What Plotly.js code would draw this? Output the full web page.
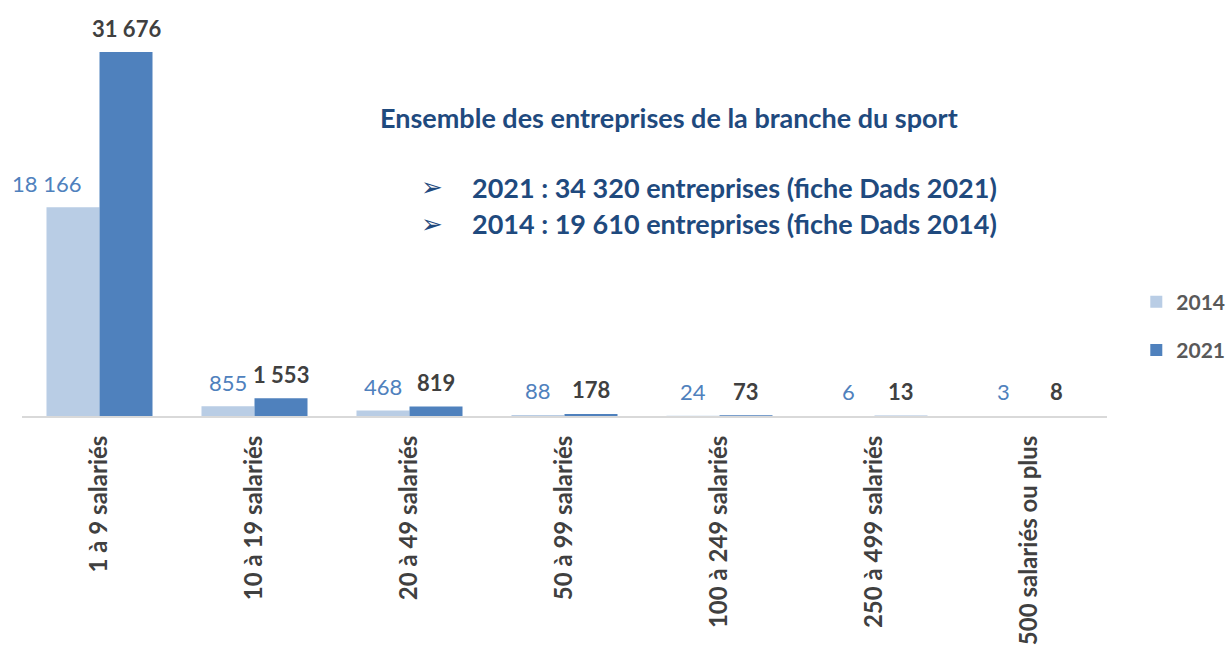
<!DOCTYPE html>
<html>
<head>
<meta charset="utf-8">
<script src="https://cdn.plot.ly/plotly-3.0.1.min.js"></script>
<style>html,body{margin:0;padding:0;background:#fff;}#chart{width:1227px;height:650px;}</style>
</head>
<body>
<div id="chart"></div>
<script>
const categories = ['1 à 9 salariés', '10 à 19 salariés', '20 à 49 salariés', '50 à 99 salariés', '100 à 249 salariés', '250 à 499 salariés', '500 salariés ou plus'];
const values2014 = [18166, 855, 468, 88, 24, 6, 3];
const values2021 = [31676, 1553, 819, 178, 73, 13, 8];
const seriesNames = ['2014', '2021'];
const titleText = 'Ensemble des entreprises de la branche du sport';
const bulletLines = ['2021 : 34 320 entreprises (fiche Dads 2021)', '2014 : 19 610 entreprises (fiche Dads 2014)'];

const FONT = 'Lato, "Open Sans", sans-serif';
const LIGHT = '#b9cde5', DARK = '#4f81bd', TITLE_C = '#1f4a7e';
const fmt = n => String(n).replace(/\B(?=(\d{3})+(?!\d))/g, ' ');

const bargap = 0.316;
const off = (1 - bargap) / 4;

const traces = [
  {type: 'bar', name: seriesNames[0], x: categories, y: values2014, marker: {color: LIGHT}, legendgroup: 'a', hoverinfo: 'none'},
  {type: 'bar', name: seriesNames[1], x: categories, y: values2021, marker: {color: DARK}, legendgroup: 'b', hoverinfo: 'none'}
];

const annotations = [];
values2014.forEach((v, i) => annotations.push({
  x: i - off, y: v, xref: 'x', yref: 'y', text: fmt(v), showarrow: false,
  yanchor: 'middle', yshift: 24, xshift: i === 0 ? -27 : 0,
  font: {family: FONT, size: 22, color: DARK}
}));
values2021.forEach((v, i) => annotations.push({
  x: i + off, y: v, xref: 'x', yref: 'y', text: '<b>' + fmt(v) + '</b>', showarrow: false,
  yanchor: 'middle', yshift: 24,
  font: {family: FONT, size: 22, color: '#404040'}
}));
annotations.push({
  xref: 'paper', yref: 'paper', x: 0.596, y: 0.755, text: '<b>' + titleText + '</b>', showarrow: false,
  xanchor: 'center', yanchor: 'middle', font: {family: FONT, size: 27, color: TITLE_C}
});
bulletLines.forEach((t, k) => {
  const y = k === 0 ? 0.578 : 0.485;
  annotations.push({xref: 'paper', yref: 'paper', x: 0.378, y: y, text: '➢', showarrow: false,
    xanchor: 'center', yanchor: 'middle', font: {family: 'DejaVu Sans', size: 26, color: TITLE_C}});
  annotations.push({xref: 'paper', yref: 'paper', x: 0.413, y: y, text: '<b>' + t + '</b>', showarrow: false,
    xanchor: 'left', yanchor: 'middle', font: {family: FONT, size: 27, color: TITLE_C}});
});

const layout = {
  width: 1227, height: 650,
  margin: {l: 22, r: 120, t: 20, b: 234, autoexpand: false},
  paper_bgcolor: '#fff', plot_bgcolor: '#fff',
  barmode: 'group', bargap: bargap, bargroupgap: 0,
  showlegend: true,
  legend: {x: 1.027, y: 0.227, xanchor: 'left', yanchor: 'middle', tracegroupgap: 18,
    font: {family: FONT, size: 21, color: '#595959', weight: 'bold'}, bgcolor: 'rgba(0,0,0,0)', itemwidth: 30},
  xaxis: {type: 'category', range: [-0.5, 6.5], tickangle: -90, showgrid: false, zeroline: false,
    showline: true, linecolor: '#d9d9d9', linewidth: 2, ticks: '', ticklabelstandoff: 8,
    tickfont: {family: FONT, size: 24, color: '#404040', weight: 'bold'}, fixedrange: true},
  yaxis: {range: [0, 31676 * 396 / 364], visible: false, showgrid: false, zeroline: false, fixedrange: true},
  annotations: annotations
};

Plotly.newPlot('chart', traces, layout, {displayModeBar: false, staticPlot: true});
</script>
</body>
</html>
